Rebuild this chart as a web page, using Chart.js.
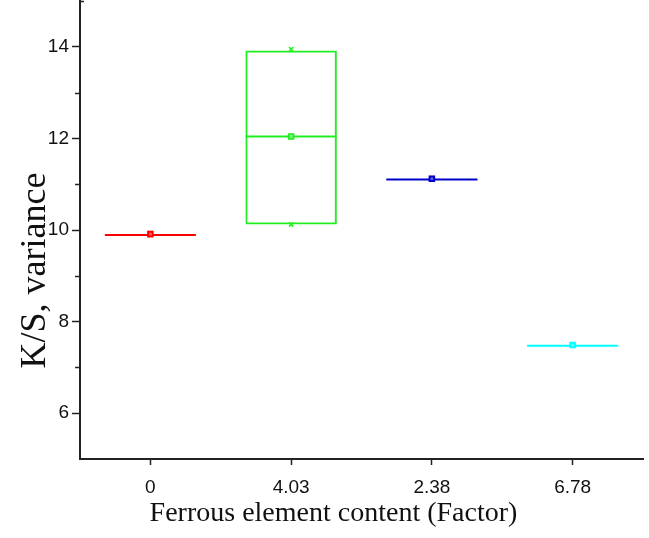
<!DOCTYPE html>
<html>
<head>
<meta charset="utf-8">
<script src="https://cdn.jsdelivr.net/npm/chart.js@4.4.0/dist/chart.umd.min.js"></script>
<style>
  body { margin: 0; background: #fff; }
  #wrap { width: 649px; height: 538px; }
</style>
</head>
<body>
<div id="wrap"><canvas id="boxChart" width="649" height="538"></canvas></div>
<script>
// categories and box statistics
var categories = ['0', '4.03', '2.38', '6.78'];
var q1 = [9.89, 10.12, 11.09, 7.47];
var q3 = [9.90, 13.92, 11.11, 7.48];
var medians = [9.89, 12.04, 11.10, 7.47];
var means = [9.91, 12.04, 11.12, 7.49];
var mins = [9.91, 10.12, 11.12, 7.49];
var maxs = [9.93, 13.95, 11.13, 7.50];
var colors = ['#ff0000', '#22ee22', '#0000cc', '#00ffff'];

var yTicks = [6, 8, 10, 12, 14];
var yMinorTicks = [7, 9, 11, 13];

var boxes = categories.map(function (c, i) { return [q1[i], q3[i]]; });

// titles sit off-centre in the original, pad them with trailing spaces
var pad = function (n) { return new Array(n + 1).join('\u00a0'); };

// minor tick marks on the y axis
var minorTicksPlugin = {
    id: 'minorTicks',
    afterDraw: function (chart) {
        var ctx = chart.ctx;
        var y = chart.scales.y;
        ctx.save();
        ctx.strokeStyle = '#222';
        ctx.lineWidth = 1.5;
        yMinorTicks.forEach(function (v) {
            var py = Math.round(y.getPixelForValue(v)) + 0.5;
            ctx.beginPath();
            ctx.moveTo(y.right - 5, py);
            ctx.lineTo(y.right, py);
            ctx.stroke();
        });
        // short cap at the top of the axis
        ctx.beginPath();
        ctx.moveTo(y.right, y.top + 0.5);
        ctx.lineTo(y.right + 4, y.top + 0.5);
        ctx.stroke();
        ctx.restore();
    }
};

var ctx = document.getElementById('boxChart').getContext('2d');
var boxChart = new Chart(ctx, {
    data: {
        labels: categories,
        datasets: [{
            type: 'bar',
            label: 'Box',
            data: boxes,
            backgroundColor: 'rgba(0,0,0,0)',
            borderColor: colors,
            borderWidth: 2,
            borderSkipped: false,
            barPercentage: 0.65,
            categoryPercentage: 1,
            order: 3
        }, {
            type: 'line',
            label: 'Median',
            data: medians,
            showLine: false,
            pointStyle: 'line',
            pointRadius: 45.5,
            pointBorderWidth: 2,
            pointBorderColor: colors,
            pointBackgroundColor: colors,
            order: 2
        }, {
            type: 'line',
            label: 'Mean',
            data: means,
            showLine: false,
            pointStyle: 'rect',
            pointRadius: 3.2,
            pointBorderWidth: 2,
            pointBorderColor: colors,
            pointBackgroundColor: 'rgba(255,255,255,0.4)',
            order: 1
        }, {
            type: 'line',
            label: 'Min',
            data: mins,
            showLine: false,
            pointStyle: 'crossRot',
            pointRadius: 3,
            pointBorderWidth: 1.5,
            pointBorderColor: colors,
            order: 1
        }, {
            type: 'line',
            label: 'Max',
            data: maxs,
            showLine: false,
            pointStyle: 'crossRot',
            pointRadius: 3,
            pointBorderWidth: 1.5,
            pointBorderColor: colors,
            order: 1
        }]
    },
    options: {
        responsive: false,
        animation: false,
        layout: { autoPadding: false, padding: { top: 1, right: 6, left: 0, bottom: 0 } },
        plugins: {
            legend: { display: false },
            tooltip: { enabled: false }
        },
        scales: {
            x: {
                type: 'category',
                offset: true,
                border: { display: true, color: '#222', width: 2 },
                grid: {
                    offset: false,
                    drawOnChartArea: false,
                    drawTicks: true,
                    tickLength: 6,
                    tickColor: '#222',
                    tickWidth: 1.5
                },
                ticks: {
                    color: '#111',
                    padding: 11,
                    font: { family: 'Liberation Sans, Arial', size: 19 }
                },
                title: {
                    display: true,
                    text: 'Ferrous element content (Factor)' + pad(8),
                    color: '#111',
                    padding: { top: 2, bottom: 8 },
                    font: { family: 'Liberation Serif, Times New Roman', size: 28 }
                },
                afterFit: function (scale) {
                    scale.height = 79;
                    scale.paddingLeft = 0;
                    scale.paddingRight = 0;
                }
            },
            y: {
                min: 5,
                max: 15,
                border: { display: true, color: '#222', width: 2 },
                grid: {
                    drawOnChartArea: false,
                    drawTicks: true,
                    tickLength: 8,
                    tickColor: '#222',
                    tickWidth: 1.5
                },
                afterBuildTicks: function (scale) {
                    scale.ticks = yTicks.map(function (v) { return { value: v }; });
                },
                ticks: {
                    color: '#111',
                    padding: 3,
                    font: { family: 'Liberation Sans, Arial', size: 19 }
                },
                title: {
                    display: true,
                    text: 'K/S, variance' + pad(9),
                    color: '#111',
                    padding: { top: 14, bottom: 4 },
                    font: { family: 'Liberation Serif, Times New Roman', size: 36 }
                },
                afterFit: function (scale) {
                    scale.width = 80;
                    scale.paddingTop = 0;
                    scale.paddingBottom = 0;
                }
            }
        }
    },
    plugins: [minorTicksPlugin]
});
</script>
</body>
</html>
